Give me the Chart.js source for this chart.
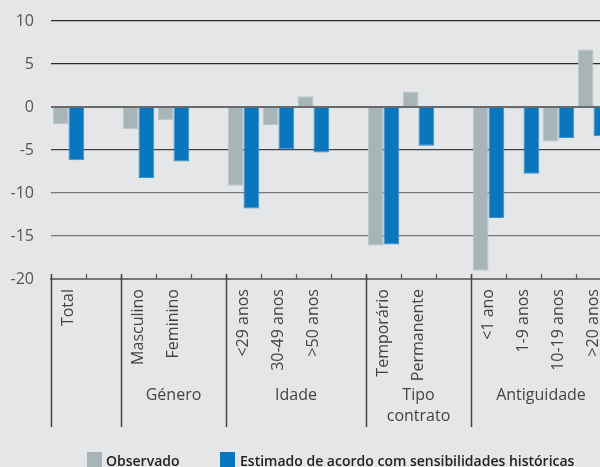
<!DOCTYPE html>
<html>
<head>
<meta charset="utf-8">
<script src="https://cdn.jsdelivr.net/npm/chart.js@4/dist/chart.umd.min.js"></script>
<style>
  html, body { margin: 0; padding: 0; background: #e5e6e8; overflow: hidden; }
  #wrap { position: relative; width: 600px; height: 467px; overflow: hidden; }
  #myChart { position: absolute; left: 0; top: 0; }
  .legend { position: absolute; top: 451px; font: 600 14px "Open Sans", sans-serif; color: #222; line-height: 20px; white-space: nowrap; }
  .box { position: absolute; top: 452px; width: 15px; height: 15px; }
</style>
</head>
<body>
<div id="wrap">
  <canvas id="myChart" width="656" height="467"></canvas>
  <div class="box" style="left:87px;background:#a7b5b9"></div>
  <div class="legend" style="left:106px">Observado</div>
  <div class="box" style="left:220px;background:#0a76be"></div>
  <div class="legend" style="left:240px">Estimado de acordo com sensibilidades históricas</div>
</div>
<script>
const categories = ['Total', '', 'Masculino', 'Feminino', '', '<29 anos', '30-49 anos', '>50 anos', '',
  'Temporário', 'Permanente', '', '<1 ano', '1-9 anos', '10-19 anos', '>20 anos'];
const observado = [-2.0, null, -2.6, -1.5, null, -9.15, -2.1, 1.25, null, -16.1, 1.8, null, -19.05, -0.2, -4.0, 6.7];
const estimado = [-6.2, null, -8.25, -6.35, null, -11.8, -4.9, -5.3, null, -16.0, -4.5, null, -12.9, -7.75, -3.6, -3.4];
const yTicks = [10, 5, 0, -5, -10, -15, -20];
// groups: label, first category index, index after last
const groups = [
  { label: [], from: 0, to: 2 },
  { label: ['Género'], from: 2, to: 5 },
  { label: ['Idade'], from: 5, to: 9 },
  { label: ['Tipo', 'contrato'], from: 9, to: 12 },
  { label: ['Antiguidade'], from: 12, to: 16 }
];

const gridColors = { '10': '#2b2b2b', '5': '#2b2b2b', '0': '#6a6a6a', '-5': '#444', '-10': '#777', '-15': '#777', '-20': '#777' };

const groupPlugin = {
  id: 'groups',
  afterDraw(chart) {
    const ctx = chart.ctx;
    const x = chart.scales.x;
    const area = chart.chartArea;
    const step = x.getPixelForValue(1) - x.getPixelForValue(0);
    const edge = i => x.getPixelForValue(i) - step / 2;
    const axisY = area.bottom;
    ctx.save();
    // small ticks between categories
    ctx.strokeStyle = '#555';
    ctx.lineWidth = 1.2;
    for (let i = 1; i < categories.length; i++) {
      const px = Math.round(edge(i)) + 0.5;
      ctx.beginPath();
      ctx.moveTo(px, axisY);
      ctx.lineTo(px, axisY - 5);
      ctx.stroke();
    }
    // group dividers
    ctx.strokeStyle = '#444';
    ctx.lineWidth = 1.5;
    const bounds = [0, 2, 5, 9, 12, 16];
    bounds.forEach(b => {
      const px = Math.round(edge(b)) + 0.5;
      ctx.beginPath();
      ctx.moveTo(px, axisY - 5);
      ctx.lineTo(px, 427);
      ctx.stroke();
    });
    // group labels
    ctx.fillStyle = '#444';
    ctx.font = '16px "Open Sans", sans-serif';
    ctx.textAlign = 'center';
    ctx.textBaseline = 'middle';
    groups.forEach(g => {
      const cx = (edge(g.from) + edge(g.to)) / 2;
      g.label.forEach((line, k) => ctx.fillText(line, cx, 395 + k * 21));
    });
    ctx.restore();
  }
};

new Chart(document.getElementById('myChart'), {
  type: 'bar',
  data: {
    labels: categories,
    datasets: [
      { label: 'Observado', data: observado, backgroundColor: '#a7b5b9', borderColor: '#bac6c9', borderWidth: 1 },
      { label: 'Estimado de acordo com sensibilidades históricas', data: estimado, backgroundColor: '#0a76be', borderColor: '#3d8fc8', borderWidth: 1 }
    ]
  },
  options: {
    responsive: false,
    animation: false,
    devicePixelRatio: 1,
    layout: { padding: { top: 21, right: 45, bottom: 0, left: 0 } },
    datasets: { bar: { categoryPercentage: 0.9, barPercentage: 1 } },
    plugins: { legend: { display: false }, tooltip: { enabled: false } },
    scales: {
      x: {
        grid: { display: false, drawTicks: false },
        border: { display: true, color: '#777', width: 2 },
        ticks: {
          autoSkip: false, maxRotation: 90, minRotation: 90, padding: 10,
          color: '#444', font: { family: 'Open Sans', size: 16 }
        },
        afterFit(scale) { scale.height = 188; }
      },
      y: {
        min: -20, max: 10,
        afterBuildTicks(scale) { scale.ticks = yTicks.map(v => ({ value: v })); },
        border: { display: false },
        grid: {
          drawTicks: false,
          color: c => gridColors[String(c.tick.value)] || '#777',
          lineWidth: c => (c.tick.value === 0 || c.tick.value === -20) ? 2 : 1.3
        },
        ticks: { padding: 17, color: '#555', font: { family: 'Open Sans', size: 16 } },
        afterFit(scale) { scale.width = 51; scale.paddingTop = 0; scale.paddingBottom = 0; }
      }
    }
  },
  plugins: [groupPlugin]
});
</script>
</body>
</html>
